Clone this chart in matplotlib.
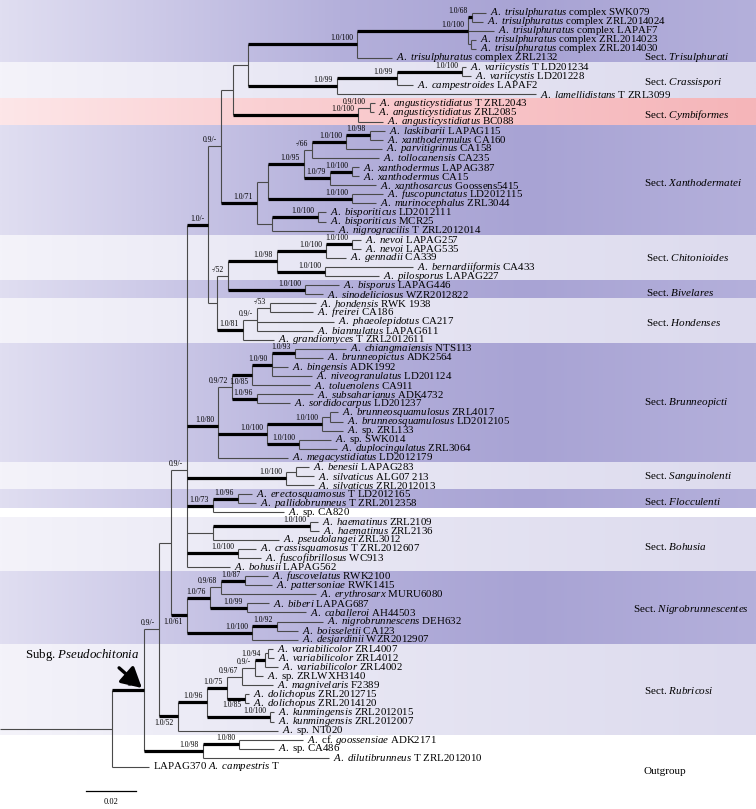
import re
import numpy as np
import matplotlib
matplotlib.use("Agg")
import matplotlib.pyplot as plt
from matplotlib.colors import LinearSegmentedColormap
from matplotlib.patches import FancyArrowPatch

plt.rcParams['font.family'] = ['Liberation Serif', 'DejaVu Serif']
plt.rcParams['mathtext.fontset'] = 'custom'
plt.rcParams['mathtext.rm'] = 'Liberation Serif'
plt.rcParams['mathtext.it'] = 'Liberation Serif:italic'

# ---------------- data ----------------
TIP_LABELS = [
    "*A. trisulphuratus* complex SWK079",
    "*A. trisulphuratus* complex ZRL2014024",
    "*A. trisulphuratus* complex LAPAF7",
    "*A. trisulphuratus* complex ZRL2014023",
    "*A. trisulphuratus* complex ZRL2014030",
    "*A. trisulphuratus* complex ZRL2132",
    "*A. variicystis* T LD201234",
    "*A. variicystis* LD201228",
    "*A. campestroides* LAPAF2",
    "*A. lamellidistans* T ZRL3099",
    "*A. angusticystidiatus* T ZRL2043",
    "*A. angusticystidiatus* ZRL2085",
    "*A. angusticystidiatus* BC088",
    "*A. laskibarii* LAPAG115",
    "*A. xanthodermulus* CA160",
    "*A. parvitigrinus* CA158",
    "*A. tollocanensis* CA235",
    "*A. xanthodermus* LAPAG387",
    "*A. xanthodermus* CA15",
    "*A. xanthosarcus* Goossens5415",
    "*A. fuscopunctatus* LD2012115",
    "*A. murinocephalus* ZRL3044",
    "*A. bisporiticus* LD2012111",
    "*A. bisporiticus* MCR25",
    "*A. nigrogracilis* T ZRL2012014",
    "*A. nevoi* LAPAG257",
    "*A. nevoi* LAPAG535",
    "*A. gennadii* CA339",
    "*A. bernardiiformis* CA433",
    "*A. pilosporus* LAPAG227",
    "*A. bisporus* LAPAG446",
    "*A. sinodeliciosus* WZR2012822",
    "*A. hondensis* RWK 1938",
    "*A. freirei* CA186",
    "*A. phaeolepidotus* CA217",
    "*A. biannulatus* LAPAG611",
    "*A. grandiomyces* T ZRL2012611",
    "*A. chiangmaiensis* NTS113",
    "*A. brunneopictus* ADK2564",
    "*A. bingensis* ADK1992",
    "*A. niveogranulatus* LD201124",
    "*A. toluenolens* CA911",
    "*A. subsaharianus* ADK4732",
    "*A. sordidocarpus* LD201237",
    "*A. brunneosquamulosus* ZRL4017",
    "*A. brunneosquamulosus* LD2012105",
    "*A.* sp. ZRL133",
    "*A.* sp. SWK014",
    "*A. duplocingulatus* ZRL3064",
    "*A. megacystidiatus* LD2012179",
    "*A. benesii* LAPAG283",
    "*A. silvaticus* ALG07 213",
    "*A. silvaticus* ZRL2012013",
    "*A. erectosquamosus* T LD2012165",
    "*A. pallidobrunneus* T ZRL2012358",
    "*A.* sp. CA820",
    "*A. haematinus* ZRL2109",
    "*A. haematinus* ZRL2136",
    "*A. pseudolangei* ZRL3012",
    "*A. crassisquamosus* T ZRL2012607",
    "*A. fuscofibrillosus* WC913",
    "*A. bohusii* LAPAG562",
    "*A. fuscovelatus* RWK2100",
    "*A. pattersoniae* RWK1415",
    "*A. erythrosarx* MURU6080",
    "*A. biberi* LAPAG687",
    "*A. caballeroi* AH44503",
    "*A. nigrobrunnescens* DEH632",
    "*A. boisseletii* CA123",
    "*A. desjardinii* WZR2012907",
    "*A. variabilicolor* ZRL4007",
    "*A. variabilicolor* ZRL4012",
    "*A. variabilicolor* ZRL4002",
    "*A.* sp. ZRLWXH3140",
    "*A. magnivelaris* F2389",
    "*A. dolichopus* ZRL2012715",
    "*A. dolichopus* ZRL2014120",
    "*A. kunmingensis* ZRL2012015",
    "*A. kunmingensis* ZRL2012007",
    "*A.* sp. NT020",
    "*A.* cf. *goossensiae* ADK2171",
    "*A.* sp. CA486",
    "*A. dilutibrunneus* T ZRL2012010",
    "LAPAG370 *A. campestris* T",
]

# Newick tree: tN = tip index in TIP_LABELS, quoted labels = PP/BS support,
# numbers after ':' = branch lengths (substitutions/site)
TREE = (
    "("        # root
    "("        # Subg. Pseudochitonia
    "("        # Q
    "("        # R
    "("        # S
    "("        # T
    "("        # U
    "("        # X
    "("        # Y
    "(((t0:0.0056,t1:0.0044)'1.0/68':0.0016,t2:0.0104,(t3:0.0020,t4:0.0020):0.0012)'1.0/100':0.0444,t5:0.0140)'1.0/100':0.0436,"
    "(((t6:0.0016,t7:0.0036)'1.0/100':0.0260,t8:0.0064)'1.0/99':0.0240,t9:0.0796)'1.0/99':0.0356"
    "):0.0060,"
    "((t10:0.0020,t11:0.0016)'0.9/100':0.0048,t12:0.0100)'1.0/100':0.0500"
    "):0.0048,"
    "(((((("
    "t13:0.0060,t14:0.0052)'1.0/98':0.0096,t15:0.0144)'1.0/100':0.0136,t16:0.0268)'-/66':0.0032,"
    "((t17:0.0028,t18:0.0028)'1.0/100':0.0088,t19:0.0184)'1.0/79':0.0104"
    ")'1.0/95':0.0144,"
    "(t20:0.0124,t21:0.0096)'1.0/100':0.0336"
    "):0.0044,"
    "((t22:0.0032,t23:0.0032)'1.0/100':0.0184,t24:0.0248):0.0060"
    ")'1.0/71':0.0144"
    ")'0.9/-':0.0052,"
    "("
    "("
    "((("
    "t25:0.0036,t26:0.0036)'1.0/100':0.0104,t27:0.0080)'1.0/100':0.0196,"
    "(t28:0.0352,t29:0.0216)'1.0/100':0.0192"
    ")'1.0/98':0.0196,"
    "(t30:0.0136,t31:0.0072)'1.0/100':0.0308"
    ")'-/52':0.0044,"
    "(((t32:0.0184,t33:0.0172)'-/53':0.0052,t34:0.0308,t35:0.0224)'0.9/-':0.0056,t36:0.0124)'1.0/81':0.0104"
    "):0.0036"
    ")'1.0/-':0.0084,"
    "("
    "(((("
    "t37:0.0204,t38:0.0112)'1.0/93':0.0092,t39:0.0064,t40:0.0160)'1.0/90':0.0080,t41:0.0232)'1.0/85':0.0080,"
    "(t42:0.0224,t43:0.0132)'1.0/96':0.0100"
    ")'0.9/72':0.0056,"
    "(((t44:0.0032,t45:0.0052):0.0032,t46:0.0084)'1.0/100':0.0220,(t47:0.0128,t48:0.0152)'1.0/100':0.0128)'1.0/100':0.0196,"
    "t49:0.0280"
    ")'1.0/80':0.0124,"
    "((t50:0.0052,t51:0.0072):0.0040,t52:0.0112)'1.0/100':0.0396,"
    "((t53:0.0056,t54:0.0072)'1.0/96':0.0100,t55:0.0284)'1.0/73':0.0104,"
    "((t56:0.0032,t57:0.0036)'1.0/100':0.0388,t58:0.0264):0.0104,"
    "(t59:0.0072,t60:0.0092)'1.0/100':0.0204,"
    "t61:0.0172"
    ")'0.9/-':0.0064,"
    "("
    "(((t62:0.0092,t63:0.0108)'1.0/87':0.0096,t64:0.0380)'0.9/68':0.0044,(t65:0.0088,t66:0.0236)'1.0/99':0.0148)'1.0/76':0.0092,"
    "((t67:0.0184,t68:0.0084)'1.0/92':0.0100,t69:0.0184)'1.0/100':0.0260"
    ")'1.0/61':0.0064"
    "):0.0048,"
    "("
    "("
    "("
    "((((t70:0.0020,t71:0.0024):0.0012,t72:0.0052)'1.0/94':0.0040,t73:0.0032)'0.9/-':0.0052,t74:0.0124)'0.9/67':0.0060,"
    "(t75:0.0016,t76:0.0016)'1.0/85':0.0072"
    ")'1.0/75':0.0080,"
    "(t77:0.0016,t78:0.0016)'1.0/100':0.0252"
    ")'1.0/96':0.0116,"
    "t79:0.0400"
    ")'1.0/52':0.0076"
    ")'0.9/-':0.0060,"
    "((t80:0.0256,t81:0.0140)'1.0/80':0.0144,t82:0.0504)'1.0/98':0.0236"
    ")'1.0/-':0.0128,"
    "t83:0.0148"
    "):0.0448;"
)

SECTIONS = ["Trisulphurati", "Crassispori", "Cymbiformes", "Xanthodermatei", "Chitonioides",
            "Bivelares", "Hondenses", "Brunneopicti", "Sanguinolenti", "Flocculenti",
            "Bohusia", "Nigrobrunnescentes", "Rubricosi"]
SECTION_FIRST = [0, 6, 10, 13, 25, 30, 32, 37, 50, 53, 56, 62, 70]
SECTION_LAST = [5, 9, 12, 24, 29, 31, 36, 49, 52, 54, 61, 69, 79]
SECTION_TONE = ['dark', 'light', 'pink', 'dark', 'light', 'dark', 'light', 'dark',
                'light', 'dark', 'light', 'dark', 'light']
SECTION_LABEL_ROW = [5.0, 7.65, 11.3, 18.65, 26.9, 30.75, 34.05, 42.85, 51.1, 53.75, 58.8, 65.7, 74.6]
SECTION_LABEL_XPX = [644, 644, 644, 644, 646, 646, 646, 644, 644, 644, 644, 633, 644]
OUTGROUP_ROW = 83.55
SCALE_LEN = 0.02
SUBGENUS = "Pseudochitonia"

# ---------------- helpers ----------------
def rich(s):
    parts = s.split('*')
    out = []
    for i, p in enumerate(parts):
        if i % 2 == 1 and p:
            out.append(r"$\mathit{" + p.replace(" ", r"\ ") + "}$")
        else:
            out.append(p)
    return "".join(out)


def parse_newick(s):
    s = re.sub(r"\s+", "", s).rstrip(';')
    pos = 0

    def node():
        nonlocal pos
        n = {'children': [], 'label': None, 'tip': None, 'length': 0.0}
        if s[pos] == '(':
            pos += 1
            while True:
                n['children'].append(node())
                if s[pos] == ',':
                    pos += 1
                    continue
                if s[pos] == ')':
                    pos += 1
                    break
        if pos < len(s) and s[pos] == "'":
            end = s.index("'", pos + 1)
            n['label'] = s[pos + 1:end]
            pos = end + 1
        else:
            m = re.match(r"[A-Za-z0-9_]*", s[pos:])
            name = m.group(0)
            pos += len(name)
            if name.startswith('t'):
                n['tip'] = int(name[1:])
        if pos < len(s) and s[pos] == ':':
            m = re.match(r":([0-9.eE+-]+)", s[pos:])
            n['length'] = float(m.group(1))
            pos += len(m.group(0))
        return n

    return node()


def layout(n, parent_x):
    n['x'] = parent_x + n['length']
    for c in n['children']:
        layout(c, n['x'])
    if n['tip'] is not None:
        n['y'] = float(n['tip'])
    else:
        n['y'] = float(np.mean([c['y'] for c in n['children']]))


root = parse_newick(TREE)
stem = root['length']
layout(root, -stem)   # root node at x = 0

# ---------------- figure ----------------
W_PX, H_PX = 756, 809
fig = plt.figure(figsize=(W_PX / 100, H_PX / 100), dpi=100)
ax = fig.add_axes([0, 0, 1, 1])
PX = 0.0004                       # substitution units per pixel (0.02 = 50 px)
ROW = 9.09                        # pixels per tip row
XMIN = -stem
XMAX = XMIN + W_PX * PX
YTOP = -12.5 / ROW
YBOT = YTOP + H_PX / ROW

# background bands
CMAPS = {
    'dark': LinearSegmentedColormap.from_list('d', [(0, '#e0def1'), (0.2, '#cdcae8'), (0.45, '#b4b0db'),
                                                    (0.7, '#a8a3d4'), (1.0, '#b4b0db')]),
    'light': LinearSegmentedColormap.from_list('l', [(0, '#f4f3fa'), (0.4, '#e8e7f4'), (1.0, '#dddbee')]),
    'pink': LinearSegmentedColormap.from_list('p', [(0, '#fde6e8'), (0.35, '#fad0d3'), (1.0, '#f5b5b9')]),
}
grad = np.linspace(0, 1, 512).reshape(1, -1)
for sec, a, b, tone in zip(SECTIONS, SECTION_FIRST, SECTION_LAST, SECTION_TONE):
    top = YTOP if a == 0 else a - 0.5
    bot = b + 0.5
    ax.imshow(grad, extent=[XMIN, XMAX, bot, top], aspect='auto', cmap=CMAPS[tone],
              zorder=0, interpolation='bilinear')
ax.set_xlim(XMIN, XMAX)
ax.set_ylim(YBOT, YTOP)
ax.axis('off')

THIN = dict(color='#4a4a4a', lw=0.8, solid_capstyle='butt', zorder=2)
THICK = dict(color='black', lw=2.3, solid_capstyle='butt', zorder=3)
BELOW = {'1.0/52', '1.0/61', '1.0/85'}


def draw(n, parent_x):
    if parent_x is None:
        ax.plot([n['x'] - n['length'], n['x']], [n['y'], n['y']], **THIN)
    else:
        style = THICK if (n['label'] or '').startswith('1.0') and n['tip'] is None else THIN
        ax.plot([parent_x, n['x']], [n['y'], n['y']], **style)
    if n['children']:
        ys = [c['y'] for c in n['children']]
        ax.plot([n['x'], n['x']], [min(ys), max(ys)], **THIN)
        for c in n['children']:
            draw(c, n['x'])
        if n['label'] and parent_x is not None:
            if n['label'] in BELOW:
                ax.text(n['x'] - 4 * PX, n['y'] + 0.25, n['label'], ha='right', va='top',
                        fontsize=5.5, zorder=4)
            else:
                ax.text(n['x'] - 4 * PX, n['y'] - 0.22, n['label'], ha='right', va='bottom',
                        fontsize=5.5, zorder=4)
    else:
        ax.text(n['x'] + 4 * PX, n['y'], rich(TIP_LABELS[n['tip']]), ha='left', va='center',
                fontsize=7.8, zorder=4)


draw(root, None)

# section labels
for sec, row, xpx in zip(SECTIONS, SECTION_LABEL_ROW, SECTION_LABEL_XPX):
    ax.text(XMIN + xpx * PX, row, "Sect. " + rich("*" + sec + "*"), ha='left', va='center',
            fontsize=8, zorder=4)
ax.text(XMIN + 644 * PX, OUTGROUP_ROW, "Outgroup", ha='left', va='center', fontsize=8, zorder=4)

# subgenus annotation with arrow to its node
sub = root['children'][0]
ax.text(XMIN + 140 * PX, (655 - 12.5) / ROW, "Subg. " + rich("*" + SUBGENUS + "*"),
        ha='right', va='center', fontsize=9.3, zorder=5)
arr = FancyArrowPatch((XMIN + 117 * PX, (666 - 12.5) / ROW), (sub['x'], sub['y'] - 0.05),
                      arrowstyle='-|>,head_length=0.55,head_width=0.3', mutation_scale=22,
                      lw=2.4, color='black', zorder=6)
ax.add_patch(arr)

# scale bar
sx0 = XMIN + 86 * PX
srow = (791 - 12.5) / ROW
ax.plot([sx0, sx0 + SCALE_LEN], [srow, srow], color='black', lw=0.9)
ax.text(sx0 + SCALE_LEN / 2, srow + 0.75, f"{SCALE_LEN:.2f}", ha='center', va='top', fontsize=6)

fig.savefig("out.png", dpi=100)
